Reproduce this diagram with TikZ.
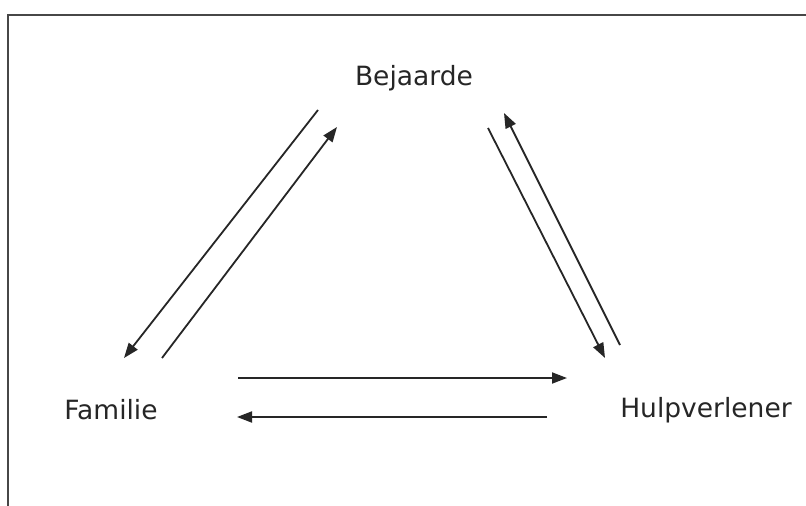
\documentclass[tikz,border=0pt]{standalone}
\usepackage{fontspec}
\setmainfont{DejaVu Sans}
\usetikzlibrary{arrows.meta}
\definecolor{ink}{HTML}{262626}
\tikzset{
  lbl/.style={text=ink, font=\fontsize{26.5}{31}\selectfont, inner sep=0pt, anchor=center},
  flow/.style={draw=ink, line width=1.8pt, -{Triangle[length=15pt,width=11pt]}},
}
\begin{document}
\begin{tikzpicture}[x=1pt,y=-1pt]
\useasboundingbox (0,0) rectangle (806,506);
\fill[white] (0,0) rectangle (806,506);
\draw[draw=ink!85, line width=1.5pt] (8,506) -- (8,15) -- (806,15);
\node[lbl] (bej) at (414,78) {Bejaarde};
\node[lbl] (fam) at (111,410) {Familie};
\node[lbl] (hulp) at (706,410) {Hulpverlener};
% left pair
\coordinate (a1s) at (318,110); \coordinate (a1e) at (124,358);
\coordinate (a2s) at (162,358); \coordinate (a2e) at (337,127);
% right pair
\coordinate (b1s) at (488,128); \coordinate (b1e) at (605,358);
\coordinate (b2s) at (620,345); \coordinate (b2e) at (504,113);
% horizontal
\coordinate (c1s) at (238,378); \coordinate (c1e) at (567,378);
\coordinate (c2s) at (547,417); \coordinate (c2e) at (237,417);
\draw[flow] (a1s) -- (a1e);
\draw[flow] (a2s) -- (a2e);
\draw[flow] (b1s) -- (b1e);
\draw[flow] (b2s) -- (b2e);
\draw[flow] (c1s) -- (c1e);
\draw[flow] (c2s) -- (c2e);
\end{tikzpicture}
\end{document}
